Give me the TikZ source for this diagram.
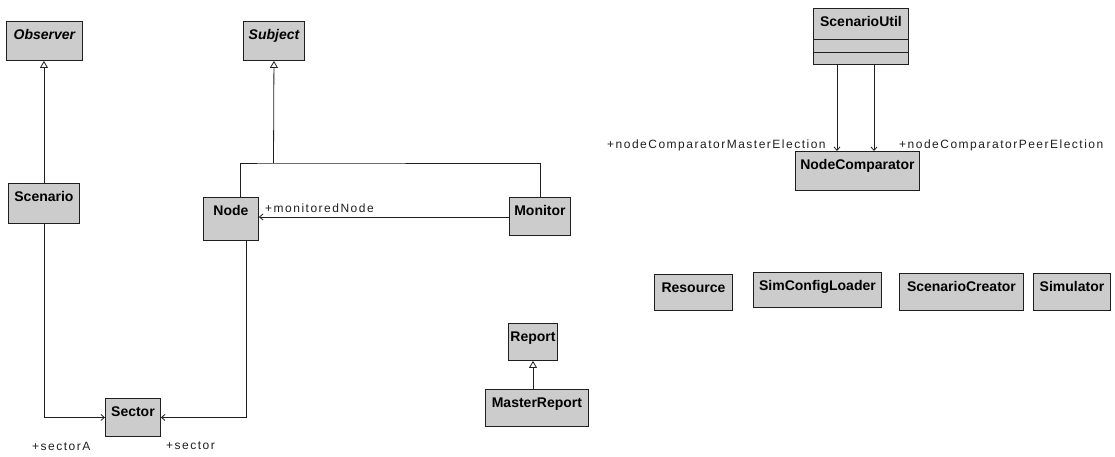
\documentclass[tikz,border=0pt]{standalone}
\usepackage{fontspec}
\usetikzlibrary{arrows.meta}
\newfontfamily\clsfont{Liberation Sans}
\newfontfamily\rolefont[LetterSpace=12.5]{Liberation Sans}
\definecolor{boxgray}{gray}{0.80}
\definecolor{inkgray}{gray}{0.12}
\tikzset{
  cls/.style 2 args={draw=inkgray, line width=0.9pt, fill=boxgray, anchor=north west,
    inner xsep=2pt, inner ysep=3pt, minimum width=#1,
    text height=15pt, text depth=#2-21pt,
    font=\clsfont\bfseries\fontsize{14}{16}\selectfont},
  role/.style={anchor=west, inner sep=0pt, text=inkgray,
    font=\rolefont\fontsize{12}{14}\selectfont},
  link/.style={draw=inkgray, line width=0.8pt},
  gen/.style={link, -{Triangle[open, length=7pt, width=8pt]}},
  assoc/.style={link, -{Straight Barb[length=3.5pt, width=6pt]}}
}
\begin{document}
\begin{tikzpicture}[x=1pt, y=-1pt]
\useasboundingbox (0,0) rectangle (1115,456);

% classes
\node[cls={76pt}{39pt}] (obs) at (6,21) {\itshape Observer};
\node[cls={61pt}{39pt}] (subj) at (243,21) {\itshape Subject};
\node[cls={71pt}{40pt}] (scen) at (8,183) {Scenario};
\node[cls={55pt}{43pt}] (nd) at (203,197) {Node};
\node[cls={61pt}{38pt}] (mon) at (509,197) {Monitor};
\node[cls={55pt}{38pt}] (sec) at (105,398) {Sector};
\node[cls={46pt}{37pt}] (rep) at (508,323) {Report};
\node[cls={103pt}{37pt}] (mrep) at (485,389) {MasterReport};
\node[cls={95pt}{56pt}] (su) at (813,8) {ScenarioUtil};
\node[cls={124pt}{39pt}] (nc) at (795,151) {NodeComparator};
\node[cls={78pt}{36pt}] (res) at (654,274) {Resource};
\node[cls={128pt}{35pt}] (scl) at (753,272) {SimConfigLoader};
\node[cls={124pt}{37pt}] (scc) at (899,273) {ScenarioCreator};
\node[cls={77pt}{37pt}] (sim) at (1033,273) {Simulator};

% ScenarioUtil compartments
\draw[link] ([yshift=-31pt]su.north west) -- ([yshift=-31pt]su.north east);
\draw[link] ([yshift=-44pt]su.north west) -- ([yshift=-44pt]su.north east);

% generalisations
\draw[gen] (scen.north) -- (scen.north |- obs.south);
\coordinate (subjjoin) at (273.5,163);
\draw[link] ([xshift=9.5pt]nd.north) |- (subjjoin) -| (mon.north);
\draw[gen] (subjjoin) -- (subj.south);
\draw[gen] (mrep.north -| rep.south) -- (rep.south);

% associations
\coordinate (monrow) at (0,217);
\draw[assoc] (mon.west |- monrow) -- (nd.east |- monrow);
\draw[assoc] (scen.south) |- (sec.west);
\draw[assoc] ([xshift=15.5pt]nd.south) |- (sec.east);
\coordinate (mastercol) at (837,0);
\coordinate (peercol) at (874,0);
\draw[assoc] (su.south -| mastercol) -- (nc.north -| mastercol);
\draw[assoc] (su.south -| peercol) -- (nc.north -| peercol);

% role names
\node[role] (lmon) at (265,208) {+monitoredNode};
\node[role] (lsa) at (32,446) {+sectorA};
\node[role] (ls) at (166,446) {+sector};
\node[role] (lme) at (607,145) {+nodeComparatorMasterElection};
\node[role] (lpe) at (899,145) {+nodeComparatorPeerElection};
\end{tikzpicture}
\end{document}
